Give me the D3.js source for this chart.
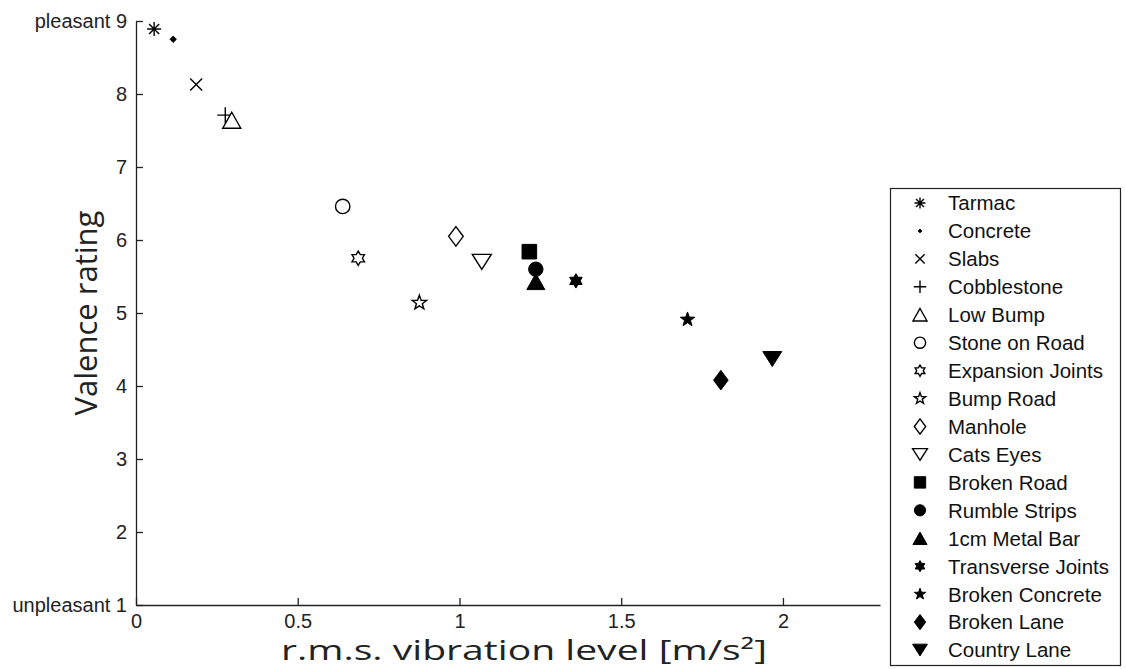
<!DOCTYPE html>
<html>
<head>
<meta charset="utf-8">
<script src="https://cdn.jsdelivr.net/npm/d3@7"></script>
<style>
  body { margin: 0; background: #fff; }
  svg { display: block; }
</style>
</head>
<body>
<div id="chart"></div>
<script>
// Valence rating vs r.m.s. vibration level - scatter with one marker per surface

const surfaces = ["Tarmac", "Concrete", "Slabs", "Cobblestone", "Low Bump", "Stone on Road",
  "Expansion Joints", "Bump Road", "Manhole", "Cats Eyes", "Broken Road", "Rumble Strips",
  "1cm Metal Bar", "Transverse Joints", "Broken Concrete", "Broken Lane", "Country Lane"];
const vibration = [0.056, 0.115, 0.186, 0.276, 0.296, 0.639, 0.687, 0.876, 0.989, 1.069,
  1.216, 1.236, 1.236, 1.36, 1.705, 1.808, 1.967];
const valence = [8.89, 8.75, 8.13, 7.71, 7.64, 6.46, 5.75, 5.14, 6.05, 5.70,
  5.84, 5.60, 5.43, 5.44, 4.91, 4.08, 4.37];
const markers = ["asterisk", "dot", "x", "plus", "up", "circle", "hexagram", "pentagram",
  "diamond", "down", "square", "circle", "up", "hexagram", "pentagram", "diamond", "down"];
const filled = [false, true, false, false, false, false, false, false,
  false, false, true, true, true, true, true, true, true];

const xTicks = [0, 0.5, 1, 1.5, 2];
const yTicks = [1, 2, 3, 4, 5, 6, 7, 8, 9];
const yTickLabels = ["unpleasant 1", "2", "3", "4", "5", "6", "7", "8", "pleasant 9"];

function starPath(points, rOuter, rInner) {
  const pts = [];
  for (let i = 0; i < points * 2; i++) {
    const r = i % 2 === 0 ? rOuter : rInner;
    const a = -Math.PI / 2 + i * Math.PI / points;
    pts.push([r * Math.cos(a), r * Math.sin(a)]);
  }
  return "M" + pts.map(p => p[0].toFixed(2) + "," + p[1].toFixed(2)).join("L") + "Z";
}

// s = overall scale (1 for plot markers)
function markerPath(type, s) {
  switch (type) {
    case "asterisk": {
      const r = 7 * s, d = r * 0.72;
      return `M${-r},0L${r},0M0,${-r}L0,${r}M${-d},${-d}L${d},${d}M${-d},${d}L${d},${-d}`;
    }
    case "dot": {
      const r = 3.2 * s;
      return `M${-r},0L0,${-r}L${r},0L0,${r}Z`;
    }
    case "x": {
      const r = 6 * s;
      return `M${-r},${-r}L${r},${r}M${-r},${r}L${r},${-r}`;
    }
    case "plus": {
      const r = 8 * s;
      return `M${-r},0L${r},0M0,${-r}L0,${r}`;
    }
    case "up": {
      const w = 9 * s, h = 8 * s;
      return `M0,${-h}L${w},${h}L${-w},${h}Z`;
    }
    case "down": {
      const w = 9.5 * s, h = 7.5 * s;
      return `M0,${h}L${w},${-h}L${-w},${-h}Z`;
    }
    case "circle": {
      const r = 7.2 * s;
      return `M${r},0A${r},${r},0,1,1,${-r},0A${r},${r},0,1,1,${r},0Z`;
    }
    case "square": {
      const r = 7.3 * s;
      return `M${-r},${-r}L${r},${-r}L${r},${r}L${-r},${r}Z`;
    }
    case "diamond": {
      const w = 7.3 * s, h = 9.8 * s;
      return `M0,${-h}L${w},0L0,${h}L${-w},0Z`;
    }
    case "pentagram":
      return starPath(5, 7.6 * s, 3.1 * s);
    case "hexagram":
      return starPath(6, 7.2 * s, 4.2 * s);
  }
  return "";
}

function drawMarker(sel, type, isFilled, s) {
  const isLine = ["asterisk", "x", "plus"].includes(type);
  sel.append("path")
    .attr("d", markerPath(type, s))
    .attr("fill", isLine ? "none" : (isFilled ? "#000" : "#fff"))
    .attr("stroke", "#000")
    .attr("stroke-width", isFilled ? 1 : 1.4)
    .attr("stroke-linejoin", "miter");
}

const width = 1126, height = 669;
const svg = d3.select("#chart").append("svg")
  .attr("width", width)
  .attr("height", height)
  .style("background", "#fff");

const x = d3.scaleLinear().domain([0, 2.3]).range([136, 880]);
const y = d3.scaleLinear().domain([1, 9]).range([605, 21]);

const tickFont = "'Liberation Sans', Arial, sans-serif";

// X axis (ticks pointing inward)
const xAxis = svg.append("g")
  .attr("transform", `translate(0,${y(1)})`)
  .call(d3.axisBottom(x)
    .tickValues(xTicks)
    .tickSizeInner(-7)
    .tickSizeOuter(0)
    .tickPadding(9)
    .tickFormat(d3.format("")));

// Y axis
const yAxis = svg.append("g")
  .attr("transform", `translate(${x(0)},0)`)
  .call(d3.axisLeft(y)
    .tickValues(yTicks)
    .tickSizeInner(-7)
    .tickSizeOuter(0)
    .tickPadding(9)
    .tickFormat((d, i) => yTickLabels[i]));

[xAxis, yAxis].forEach(ax => {
  ax.select(".domain").attr("stroke", "#222").attr("stroke-width", 1.3);
  ax.selectAll(".tick line").attr("stroke", "#222").attr("stroke-width", 1.3);
  ax.selectAll(".tick text")
    .attr("fill", "#222")
    .style("font-family", tickFont)
    .style("font-size", "20px");
});

// Axis titles
svg.append("text")
  .attr("x", 524)
  .attr("y", 660)
  .attr("text-anchor", "middle")
  .attr("textLength", 486)
  .attr("lengthAdjust", "spacingAndGlyphs")
  .style("font-family", "'Open Sans', sans-serif")
  .style("font-size", "27px")
  .attr("fill", "#222")
  .text("r.m.s. vibration level [m/s²]");

svg.append("text")
  .attr("transform", `translate(97,${(y(1) + y(9)) / 2}) rotate(-90)`)
  .attr("text-anchor", "middle")
  .style("font-family", "'Open Sans', sans-serif")
  .style("font-size", "31px")
  .attr("fill", "#222")
  .text("Valence rating");

// Points
surfaces.forEach((name, i) => {
  const g = svg.append("g")
    .attr("transform", `translate(${x(vibration[i])},${y(valence[i])})`);
  drawMarker(g, markers[i], filled[i], 1);
});

// Legend
const legend = svg.append("g").attr("transform", "translate(890,188)");
legend.append("rect")
  .attr("x", 0.5).attr("y", 0.5)
  .attr("width", 230).attr("height", 477)
  .attr("fill", "#fff")
  .attr("stroke", "#222")
  .attr("stroke-width", 1.2);

const rowStep = 27.94;
surfaces.forEach((name, i) => {
  const row = legend.append("g").attr("transform", `translate(0,${15 + i * rowStep})`);
  const m = row.append("g").attr("transform", "translate(30,0)");
  drawMarker(m, markers[i], filled[i], markers[i] === "dot" ? 0.6 : 0.78);
  row.append("text")
    .attr("x", 58)
    .attr("y", 0)
    .attr("dy", "0.36em")
    .style("font-family", "'Liberation Sans', Arial, sans-serif")
    .style("font-size", "20.5px")
    .attr("fill", "#111")
    .text(name);
});
</script>
</body>
</html>
